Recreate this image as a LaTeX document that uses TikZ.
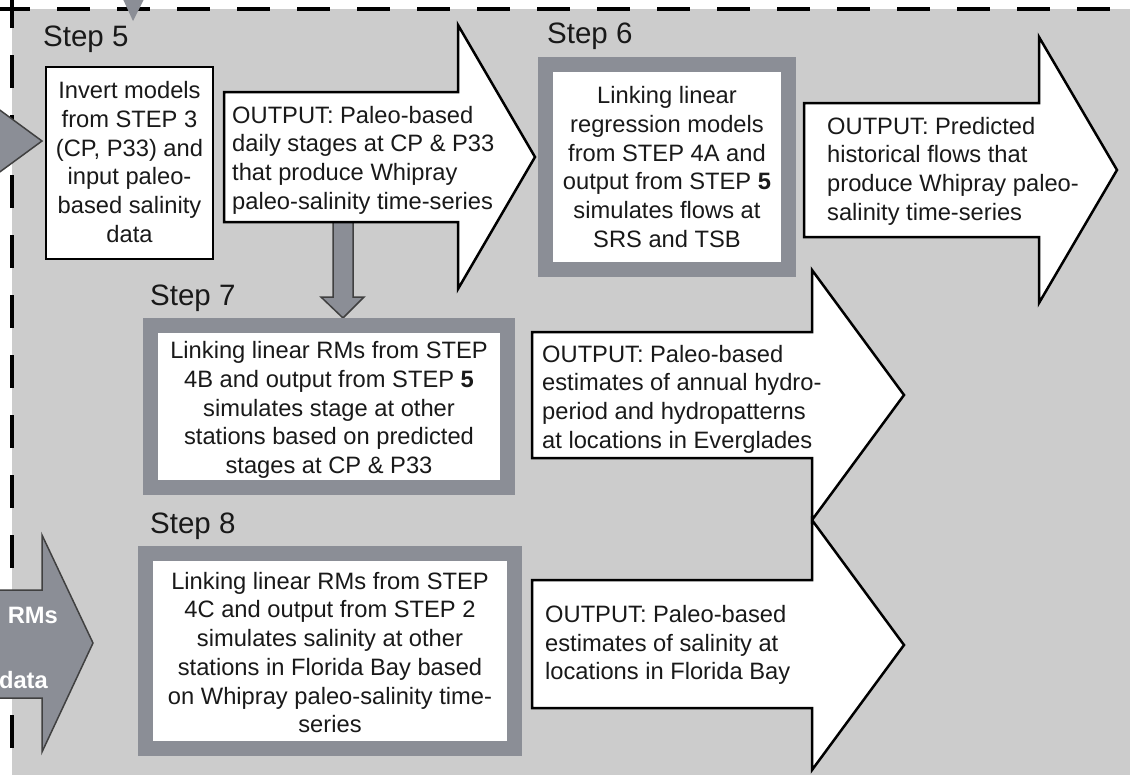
\documentclass[tikz,border=0pt]{standalone}
\usepackage{fontspec}
\setmainfont{Liberation Sans}
\definecolor{bg}{RGB}{204,204,204}
\definecolor{framegrey}{RGB}{139,142,150}
\tikzset{
  bodytext/.style={font=\fontsize{23.7}{28.7}\selectfont, inner sep=0pt, text=black!90},
  steplabel/.style={font=\fontsize{29.5}{34}\selectfont, anchor=base west, inner sep=0pt, text=black!90},
  framedbox/.style={draw=framegrey, line width=15pt, fill=white, inner sep=0pt},
  plainbox/.style={draw=black, line width=2.5pt, fill=white, inner sep=0pt},
  outarrow/.style={draw=black, line width=2.5pt, fill=white, line join=miter},
  greyarrow/.style={draw=black!75, line width=1.5pt, fill=framegrey, line join=miter},
  border/.style={draw=black, line width=3.8pt, dash pattern=on 33pt off 27pt},
}
\begin{document}
\begin{tikzpicture}[x=1pt,y=-1pt]
\useasboundingbox (0,0) rectangle (1130,774);
\clip (0,0) rectangle (1130,774);
% background
\fill[bg] (12,9) rectangle (1135,780);
\draw[border] (-3,9) -- (1140,9);
\draw[border] (12,-5) -- (12,790);
% incoming arrows
\fill[framegrey] (122,-3) -- (145,-3) -- (133,21) -- cycle;
\draw[greyarrow] (-3,108) -- (42,141) -- (-3,174) -- cycle;
\draw[greyarrow] (-10,590) -- (42,590) -- (42,535) -- (93,643) -- (42,752) -- (42,698) -- (-10,698) -- cycle;
\node[bodytext, font=\fontsize{23.7}{28.7}\selectfont\bfseries, text=white, anchor=east] (rms) at (58,615) {RMs};
\node[bodytext, font=\fontsize{23.7}{28.7}\selectfont\bfseries, text=white, anchor=east] (data) at (48,680) {data};
% Step 5
\node[steplabel] (l5) at (43,46) {Step 5};
\node[plainbox, minimum width=167pt, minimum height=192pt] (s5) at (129.5,163) {};
\node[bodytext, align=center] (t5) at (129.5,162) {Invert models\\from STEP 3\\(CP, P33) and\\input paleo-\\based salinity\\data};
% down arrow from step 5 output to step 7
\draw[greyarrow] (333,215) -- (353,215) -- (353,297) -- (364,297) -- (343,318) -- (321,297) -- (333,297) -- cycle;
% Step 5 output
\draw[outarrow] (224,92) -- (458,92) -- (458,25) -- (535,157) -- (458,289) -- (458,222) -- (224,222) -- cycle;
\node[bodytext, align=left, anchor=west] (o5) at (232,160) {OUTPUT: Paleo-based\\daily stages at CP \& P33\\that produce Whipray\\paleo-salinity time-series};
% Step 6
\node[steplabel] (l6) at (547,43) {Step 6};
\node[framedbox, minimum width=243pt, minimum height=205pt] (s6) at (667,167) {};
\node[bodytext, align=center] (t6) at (667,167) {Linking linear\\regression models\\from STEP 4A and\\output from STEP \textbf{5}\\simulates flows at\\SRS and TSB};
\draw[outarrow] (804,103) -- (1039,103) -- (1039,37) -- (1117,170) -- (1039,303) -- (1039,237) -- (804,237) -- cycle;
\node[bodytext, align=left, anchor=west] (o6) at (827,171) {OUTPUT: Predicted\\historical flows that\\produce Whipray paleo-\\salinity time-series};
% Step 7
\node[steplabel] (l7) at (150,305) {Step 7};
\node[framedbox, minimum width=357pt, minimum height=162pt] (s7) at (329,406.5) {};
\node[bodytext, align=center] (t7) at (329,410) {Linking linear RMs from STEP\\4B and output from STEP \textbf{5}\\simulates stage at other\\stations based on predicted\\stages at CP \& P33};
\draw[outarrow] (532,332) -- (812,332) -- (812,270) -- (904,395) -- (812,520) -- (812,458) -- (532,458) -- cycle;
\node[bodytext, align=left, anchor=west] (o7) at (542,399) {OUTPUT: Paleo-based\\estimates of annual hydro-\\period and hydropatterns\\at locations in Everglades};
% Step 8
\node[steplabel] (l8) at (150,533) {Step 8};
\node[framedbox, minimum width=369pt, minimum height=195pt] (s8) at (330,651) {};
\node[bodytext, align=center] (t8) at (330,652.5) {Linking linear RMs from STEP\\4C and output from STEP 2\\simulates salinity at other\\stations in Florida Bay based\\on Whipray paleo-salinity time-\\series};
\draw[outarrow] (532,580) -- (812,580) -- (812,520) -- (904,645) -- (812,770) -- (812,708) -- (532,708) -- cycle;
\node[bodytext, align=left, anchor=west] (o8) at (545,645) {OUTPUT: Paleo-based\\estimates of salinity at\\locations in Florida Bay};
\end{tikzpicture}
\end{document}
